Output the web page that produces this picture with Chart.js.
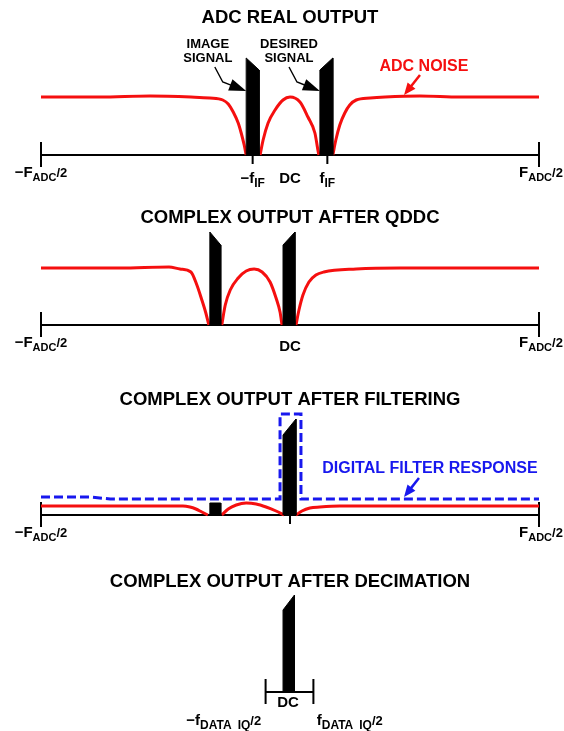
<!DOCTYPE html>
<html>
<head>
<meta charset="utf-8">
<script src="https://cdn.jsdelivr.net/npm/chart.js@4.4.1/dist/chart.umd.min.js"></script>
<style>
  html, body { margin: 0; padding: 0; background: #fff; }
  #wrap { position: relative; width: 564px; height: 731px; }
</style>
</head>
<body>
<div id="wrap"><canvas id="chart"></canvas></div>
<script>
// frequency is normalised to F_ADC, so the full span is -0.5 .. 0.5
const fAdcHalf = 0.5;
const fIF = 0.075;
const fDataIqHalf = [-0.049, 0.047];

// --- panel 1: ADC real output ---
const p1NoiseLeftX  = [-0.500, -0.382, -0.281, -0.199, -0.161, -0.135, -0.124, -0.114, -0.104, -0.098, -0.092, -0.088];
const p1NoiseLeftY  = [0.58, 0.58, 0.59, 0.58, 0.57, 0.55, 0.51, 0.43, 0.32, 0.22, 0.10, 0.00];
const p1HumpX       = [-0.060, -0.054, -0.044, -0.030, -0.014, 0.000, 0.020, 0.036, 0.050, 0.056, 0.058];
const p1HumpY       = [0.00, 0.15, 0.32, 0.45, 0.55, 0.58, 0.53, 0.38, 0.22, 0.05, 0.00];
const p1NoiseRightX = [0.086, 0.092, 0.100, 0.110, 0.120, 0.133, 0.161, 0.191, 0.261, 0.341, 0.500];
const p1NoiseRightY = [0.00, 0.15, 0.30, 0.42, 0.50, 0.55, 0.57, 0.58, 0.59, 0.58, 0.58];
const p1ImageBarX   = [-0.088, -0.062];
const p1ImageBarTop = [0.97, 0.85];
const p1WantedBarX  = [0.060, 0.086];
const p1WantedBarTop = [0.85, 0.97];

// --- panel 2: complex output after QDDC ---
const p2NoiseLeftX  = [-0.500, -0.341, -0.243, -0.221, -0.199, -0.187, -0.177, -0.169, -0.163];
const p2NoiseLeftY  = [0.57, 0.57, 0.58, 0.56, 0.53, 0.40, 0.25, 0.12, 0.00];
const p2HumpX       = [-0.137, -0.130, -0.120, -0.104, -0.088, -0.072, -0.056, -0.040, -0.028, -0.020, -0.016];
const p2HumpY       = [0.00, 0.20, 0.35, 0.47, 0.54, 0.56, 0.53, 0.43, 0.27, 0.13, 0.00];
const p2NoiseRightX = [0.012, 0.018, 0.026, 0.038, 0.052, 0.068, 0.133, 0.221, 0.500];
const p2NoiseRightY = [0.00, 0.15, 0.30, 0.43, 0.50, 0.53, 0.56, 0.57, 0.57];
const p2ImageBarX   = [-0.161, -0.139];
const p2ImageBarTop = [0.93, 0.80];
const p2WantedBarX  = [-0.014, 0.010];
const p2WantedBarTop = [0.80, 0.93];

// --- panel 3: complex output after filtering ---
const p3NoiseLeftX  = [-0.500, -0.215, -0.201, -0.189, -0.177, -0.165];
const p3NoiseLeftY  = [0.09, 0.09, 0.08, 0.06, 0.03, 0.00];
const p3HumpX       = [-0.137, -0.124, -0.108, -0.088, -0.068, -0.048, -0.028, -0.012];
const p3HumpY       = [0.00, 0.06, 0.10, 0.12, 0.11, 0.08, 0.04, 0.00];
const p3NoiseRightX = [0.012, 0.024, 0.040, 0.060, 0.100, 0.500];
const p3NoiseRightY = [0.00, 0.04, 0.07, 0.08, 0.09, 0.09];
const p3ImageBarX   = [-0.161, -0.139];
const p3ImageBarTop = [0.12, 0.12];
const p3WantedBarX  = [-0.014, 0.012];
const p3WantedBarTop = [0.80, 0.96];
const p3FilterX     = [-0.500, -0.402, -0.361, -0.020, -0.020, 0.022, 0.022, 0.500];
const p3FilterY     = [0.18, 0.18, 0.16, 0.16, 1.01, 1.01, 0.16, 0.16];

// --- panel 4: complex output after decimation ---
const p4WantedBarX  = [-0.014, 0.009];
const p4WantedBarTop = [0.82, 0.97];

// layout: pixel row of each panel's frequency axis, 100 px per unit of height
const axisRows = [155, 325, 515, 692];
const pxPerUnit = 100;
const H = 731;

const RED = '#f50f0f';
const BLUE = '#1818ee';
const FONT = '"Liberation Sans", Arial, Helvetica, sans-serif';

function pts(xs, ys) {
    return xs.map((x, i) => ({ x: x, y: ys[i] }));
}

function bar(xs, tops) {
    return [{ x: xs[0], y: 0 }, { x: xs[0], y: tops[0] }, { x: xs[1], y: tops[1] }, { x: xs[1], y: 0 }];
}

function noiseSet(xs, ys, yAxisID) {
    return {
        data: pts(xs, ys), yAxisID: yAxisID, borderColor: RED, borderWidth: 3,
        cubicInterpolationMode: 'monotone', pointRadius: 0, fill: false, order: 3, clip: false
    };
}

function barSet(xs, tops, yAxisID) {
    return {
        data: bar(xs, tops), yAxisID: yAxisID, borderColor: '#000', borderWidth: 1,
        backgroundColor: '#000', tension: 0, pointRadius: 0, fill: 'origin', order: 1, clip: false
    };
}

const datasets = [
    noiseSet(p1NoiseLeftX, p1NoiseLeftY, 'y1'),
    noiseSet(p1HumpX, p1HumpY, 'y1'),
    noiseSet(p1NoiseRightX, p1NoiseRightY, 'y1'),
    barSet(p1ImageBarX, p1ImageBarTop, 'y1'),
    barSet(p1WantedBarX, p1WantedBarTop, 'y1'),

    noiseSet(p2NoiseLeftX, p2NoiseLeftY, 'y2'),
    noiseSet(p2HumpX, p2HumpY, 'y2'),
    noiseSet(p2NoiseRightX, p2NoiseRightY, 'y2'),
    barSet(p2ImageBarX, p2ImageBarTop, 'y2'),
    barSet(p2WantedBarX, p2WantedBarTop, 'y2'),

    noiseSet(p3NoiseLeftX, p3NoiseLeftY, 'y3'),
    noiseSet(p3HumpX, p3HumpY, 'y3'),
    noiseSet(p3NoiseRightX, p3NoiseRightY, 'y3'),
    barSet(p3ImageBarX, p3ImageBarTop, 'y3'),
    barSet(p3WantedBarX, p3WantedBarTop, 'y3'),
    {
        data: pts(p3FilterX, p3FilterY), yAxisID: 'y3', borderColor: BLUE, borderWidth: 3,
        borderDash: [9, 4], tension: 0, pointRadius: 0, fill: false, order: 2, clip: false
    },

    barSet(p4WantedBarX, p4WantedBarTop, 'y4')
];

// frequency axes: [y axis, left end, right end, small centre ticks]
const freqAxes = [
    ['y1', -fAdcHalf, fAdcHalf, [-fIF, fIF]],
    ['y2', -fAdcHalf, fAdcHalf, []],
    ['y3', -fAdcHalf, fAdcHalf, [0]],
    ['y4', fDataIqHalf[0], fDataIqHalf[1], []]
];

// text: [y axis, x, y, parts [text, size, dy], colour]
const fAdcNeg = [['\u2212F', 15], ['ADC', 11, 4], ['/2', 13, 0]];
const fAdcPos = [['F', 15], ['ADC', 11, 4], ['/2', 13, 0]];
const texts = [
    ['y1', 0, 1.32, [['ADC REAL OUTPUT', 18.5]], '#000'],
    ['y1', -0.165, 1.07, [['IMAGE', 13]], '#000'],
    ['y1', -0.165, 0.93, [['SIGNAL', 13]], '#000'],
    ['y1', -0.002, 1.07, [['DESIRED', 13]], '#000'],
    ['y1', -0.002, 0.93, [['SIGNAL', 13]], '#000'],
    ['y1', 0.269, 0.84, [['ADC NOISE', 16]], RED],
    ['y1', -fAdcHalf, -0.22, fAdcNeg, '#000'],
    ['y1', fAdcHalf + 0.004, -0.22, fAdcPos, '#000'],
    ['y1', -fIF, -0.28, [['\u2212f', 15], ['IF', 12, 4]], '#000'],
    ['y1', 0, -0.28, [['DC', 15]], '#000'],
    ['y1', fIF, -0.28, [['f', 15], ['IF', 12, 4]], '#000'],

    ['y2', 0, 1.02, [['COMPLEX OUTPUT AFTER QDDC', 18.5]], '#000'],
    ['y2', -fAdcHalf, -0.22, fAdcNeg, '#000'],
    ['y2', fAdcHalf + 0.004, -0.22, fAdcPos, '#000'],
    ['y2', 0, -0.26, [['DC', 15]], '#000'],

    ['y3', 0, 1.10, [['COMPLEX OUTPUT AFTER FILTERING', 18.5]], '#000'],
    ['y3', 0.281, 0.42, [['DIGITAL FILTER RESPONSE', 16]], BLUE],
    ['y3', -fAdcHalf, -0.22, fAdcNeg, '#000'],
    ['y3', fAdcHalf + 0.004, -0.22, fAdcPos, '#000'],

    ['y4', 0, 1.05, [['COMPLEX OUTPUT AFTER DECIMATION', 18.5]], '#000'],
    ['y4', -0.004, -0.15, [['DC', 15]], '#000'],
    ['y4', -0.133, -0.33, [['\u2212f', 15], ['DATA\u2002IQ', 12, 4], ['/2', 13, 0]], '#000'],
    ['y4', 0.120, -0.33, [['f', 15], ['DATA\u2002IQ', 12, 4], ['/2', 13, 0]], '#000']
];

// callout arrows: [y axis, x list, y list, colour, line width, head length, head half width]
const arrows = [
    ['y1', [-0.151, -0.135, -0.088], [0.88, 0.73, 0.64], '#000', 1.4, 17, 6],
    ['y1', [-0.002, 0.014, 0.060], [0.88, 0.73, 0.64], '#000', 1.4, 17, 6],
    ['y1', [0.261, 0.229], [0.80, 0.60], RED, 2.5, 12, 5],
    ['y3', [0.259, 0.229], [0.37, 0.18], BLUE, 2.5, 12, 5]
];

function richText(ctx, x, y, parts, color) {
    let w = 0;
    parts.forEach(p => {
        ctx.font = 'bold ' + p[1] + 'px ' + FONT;
        w += ctx.measureText(p[0]).width;
    });
    let cx = x - w / 2;
    ctx.fillStyle = color;
    ctx.textAlign = 'left';
    ctx.textBaseline = 'alphabetic';
    parts.forEach(p => {
        ctx.font = 'bold ' + p[1] + 'px ' + FONT;
        ctx.fillText(p[0], cx, y + (p[2] || 0));
        cx += ctx.measureText(p[0]).width;
    });
}

function drawArrow(ctx, P, color, lw, head, half) {
    const n = P.length;
    const [tx, ty] = P[n - 1];
    const [px, py] = P[n - 2];
    const d = Math.hypot(tx - px, ty - py);
    const ux = (tx - px) / d, uy = (ty - py) / d;
    const bx = tx - ux * head, by = ty - uy * head;
    ctx.strokeStyle = color;
    ctx.lineWidth = lw;
    ctx.beginPath();
    ctx.moveTo(P[0][0], P[0][1]);
    for (let i = 1; i < n - 1; i++) ctx.lineTo(P[i][0], P[i][1]);
    ctx.lineTo(bx + ux * 2, by + uy * 2);
    ctx.stroke();
    ctx.fillStyle = color;
    ctx.beginPath();
    ctx.moveTo(tx, ty);
    ctx.lineTo(bx - uy * half, by + ux * half);
    ctx.lineTo(bx + uy * half, by - ux * half);
    ctx.closePath();
    ctx.fill();
}

const diagramPlugin = {
    id: 'diagram',
    beforeDatasetsDraw(chart) {
        const ctx = chart.ctx;
        const xs = chart.scales.x;
        ctx.save();
        ctx.strokeStyle = '#000';
        ctx.lineWidth = 2;
        freqAxes.forEach(a => {
            const ys = chart.scales[a[0]];
            const y0 = ys.getPixelForValue(0);
            const x1 = xs.getPixelForValue(a[1]);
            const x2 = xs.getPixelForValue(a[2]);
            ctx.beginPath();
            ctx.moveTo(x1, y0); ctx.lineTo(x2, y0);
            [x1, x2].forEach(x => {
                ctx.moveTo(x, ys.getPixelForValue(0.13));
                ctx.lineTo(x, ys.getPixelForValue(-0.12));
            });
            a[3].forEach(f => {
                const x = xs.getPixelForValue(f);
                ctx.moveTo(x, y0);
                ctx.lineTo(x, ys.getPixelForValue(-0.09));
            });
            ctx.stroke();
        });
        ctx.restore();
    },
    afterDatasetsDraw(chart) {
        const ctx = chart.ctx;
        const xs = chart.scales.x;
        ctx.save();
        arrows.forEach(a => {
            const ys = chart.scales[a[0]];
            const P = a[1].map((x, i) => [xs.getPixelForValue(x), ys.getPixelForValue(a[2][i])]);
            drawArrow(ctx, P, a[3], a[4], a[5], a[6]);
        });
        texts.forEach(t => {
            const ys = chart.scales[t[0]];
            richText(ctx, xs.getPixelForValue(t[1]), ys.getPixelForValue(t[2]), t[3], t[4]);
        });
        ctx.restore();
    }
};

function yScale(row) {
    return {
        type: 'linear', display: false,
        min: -(H - row) / pxPerUnit, max: row / pxPerUnit
    };
}

new Chart(document.getElementById('chart'), {
    type: 'line',
    data: { datasets: datasets },
    options: {
        responsive: true,
        maintainAspectRatio: false,
        animation: false,
        events: [],
        layout: { padding: { left: 41, right: 25, top: 0, bottom: 0 } },
        plugins: { legend: { display: false }, tooltip: { enabled: false } },
        scales: {
            x: { type: 'linear', display: false, min: -fAdcHalf, max: fAdcHalf },
            y1: yScale(axisRows[0]),
            y2: yScale(axisRows[1]),
            y3: yScale(axisRows[2]),
            y4: yScale(axisRows[3])
        }
    },
    plugins: [diagramPlugin]
});
</script>
</body>
</html>
